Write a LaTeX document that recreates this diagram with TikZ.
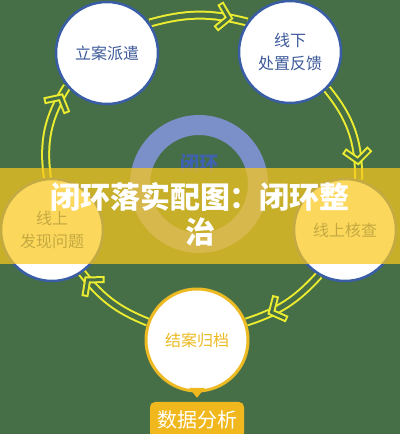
\documentclass[tikz,border=0pt]{standalone}
\usepackage{fontspec}
\newfontfamily\cjk{Noto Sans CJK SC}
\usetikzlibrary{decorations.markings, backgrounds}

\definecolor{bggreen}{RGB}{70,111,72}
\definecolor{nodeblue}{RGB}{58,94,165}
\definecolor{nodetext}{RGB}{61,90,154}
\definecolor{ringblue}{RGB}{123,143,200}
\definecolor{ringtext}{RGB}{63,98,176}
\definecolor{linkyellow}{RGB}{236,236,48}
\definecolor{closeyellow}{RGB}{236,186,34}
\definecolor{boxyellow}{RGB}{240,184,28}
\definecolor{bandyellow}{RGB}{250,200,30}

\newcommand{\drawchevron}{%
  \draw[linkyellow, line width=7pt, line join=miter] (-10pt,13pt) -- (1pt,0pt) -- (-10pt,-13pt);
  \draw[bggreen, line width=3pt, line join=miter, shorten <=2pt, shorten >=2pt] (-10pt,13pt) -- (1pt,0pt) -- (-10pt,-13pt);}

\begin{document}
\begin{tikzpicture}[x=1pt, y=1pt,
stage/.style={circle, draw=nodeblue, line width=2.5pt, fill=white, minimum size=102pt, inner sep=0pt, align=center, text=nodetext, font=\cjk\fontsize{16}{23}\selectfont},
link/.style={draw=bggreen, line width=5pt, preaction={draw=linkyellow, line width=9pt}},
chev/.style={postaction={decorate, decoration={markings, mark=at position #1 with {\drawchevron}}}},
databox/.style={fill=boxyellow, rounded corners=5pt, minimum width=94pt, minimum height=36pt, text=white, font=\cjk\fontsize{20}{24}\selectfont}
]
\useasboundingbox (0,0) rectangle (400,434);

% centre ring
\node[circle, draw=ringblue, line width=20pt, minimum size=118pt] (ring) at (199,250) {};
\node[text=ringtext, font=\cjk\bfseries\fontsize{19}{19}\selectfont] (ringlabel) at (199,271) {闭环};

\node[stage] (tl) at (107,381) {立案派遣};
\node[stage] (tr) at (290,382) {线下\\处置反馈};
\node[stage] (rt) at (345,204) {线上核查};
\node[stage, draw=closeyellow, line width=3pt, text=closeyellow] (bt) at (197,94) {结案归档};
\node[stage] (lf) at (52,204) {线上\\发现问题};

\node[databox] (data) at (197,14) {数据分析};
\fill[boxyellow] ([xshift=-8pt,yshift=14pt]data.north) -- ([xshift=8pt,yshift=14pt]data.north) -- ([yshift=4pt]data.north) -- cycle;

\begin{scope}[on background layer]
\fill[bggreen] (0,0) rectangle (400,434);
\draw[link, chev=0.86] (lf.95) to[bend left=20] (tl.220);
\draw[link, chev=0.8] (tl.35) to[bend left=15] (tr.145);
\draw[link, chev=0.8] (tr.-45) to[bend left=20] (rt.75);
\draw[link, chev=0.68] (rt.-120) to[bend left=15] (bt.20);
\draw[link, chev=0.88] (bt.160) to[bend left=15] (lf.-55);
\end{scope}

% title band
\fill[bandyellow, fill opacity=0.72] (0,170) rectangle (400,266);
\node[text=white, align=center, font=\cjk\bfseries\fontsize{30}{35}\selectfont] (title) at (200,220) {闭环落实配图：闭环整\\治};

\end{tikzpicture}
\end{document}
